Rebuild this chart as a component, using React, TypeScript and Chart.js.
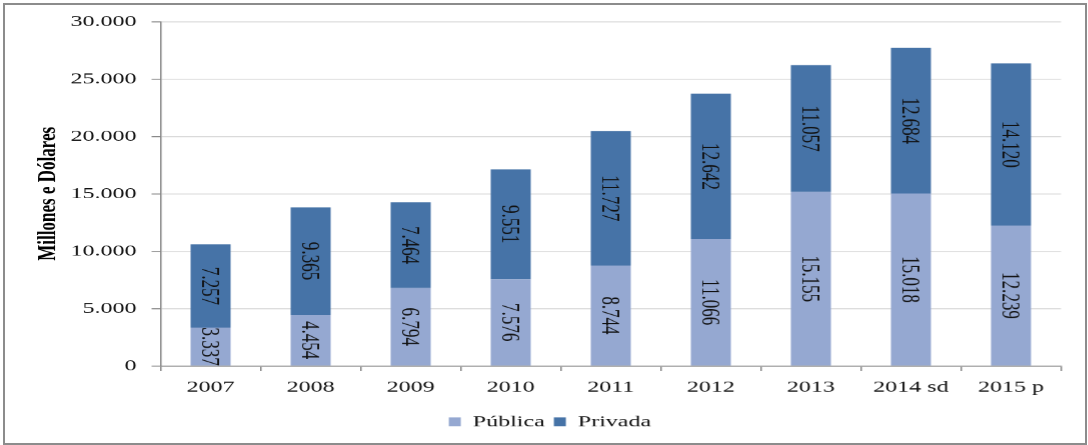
import React, { useEffect, useRef } from "react";
import { Chart, registerables } from "chart.js";

Chart.register(...registerables);

const categories = ["2007", "2008", "2009", "2010", "2011", "2012", "2013", "2014 sd", "2015 p"];
const publica = [3337, 4454, 6794, 7576, 8744, 11066, 15155, 15018, 12239];
const privada = [7257, 9365, 7464, 9551, 11727, 12642, 11057, 12684, 14120];
const yTicks = [0, 5000, 10000, 15000, 20000, 25000, 30000];
const seriesNames = ["Pública", "Privada"];
const yTitle = "Millones e Dólares";

const STRETCH = 1.5;
const LW = 725;
const LH = 445;
const FONT = "'Liberation Serif', 'Times New Roman', serif";

function fmt(n: number): string {
  const s = Math.round(n).toString();
  return s.replace(/\B(?=(\d{3})+(?!\d))/g, ".");
}

const dataLabelPlugin = {
  id: "vlabels",
  afterDatasetsDraw(chart: any) {
    const ctx = chart.ctx;
    ctx.save();
    ctx.font = `17px ${FONT}`;
    ctx.fillStyle = "#111";
    ctx.textAlign = "center";
    ctx.textBaseline = "middle";
    chart.data.datasets.forEach((ds: any, di: number) => {
      const meta = chart.getDatasetMeta(di);
      meta.data.forEach((bar: any, i: number) => {
        const v = ds.data[i];
        const cy = (bar.y + bar.base) / 2;
        ctx.save();
        ctx.translate(bar.x, cy);
        ctx.rotate(Math.PI / 2);
        ctx.fillText(fmt(v), 0, 1);
        ctx.restore();
      });
    });
    ctx.restore();
  },
};

export default function App() {
  const ref = useRef<HTMLCanvasElement | null>(null);
  useEffect(() => {
    if (!ref.current) return;
    const chart = new Chart(ref.current, {
      type: "bar",
      data: {
        labels: categories,
        datasets: [
          { label: seriesNames[0], data: publica, backgroundColor: "#95a8d1", barPercentage: 0.4, categoryPercentage: 1 },
          { label: seriesNames[1], data: privada, backgroundColor: "#4673a7", barPercentage: 0.4, categoryPercentage: 1 },
        ],
      },
      options: {
        responsive: false,
        animation: false,
        devicePixelRatio: STRETCH,
        layout: { padding: { left: 8, right: 0, top: 21.5, bottom: 5.5 } },
        plugins: {
          tooltip: { enabled: false },
          legend: {
            position: "bottom",
            labels: {
              font: { family: FONT, size: 16 },
              color: "#111",
              boxWidth: 8,
              boxHeight: 9,
              padding: 6,
            },
          },
        },
        scales: {
          x: {
            stacked: true,
            grid: { display: true, drawOnChartArea: false, drawTicks: true, tickLength: 5, color: "#868686", offset: true },
            border: { display: true, color: "#868686", width: 1 },
            ticks: { font: { family: FONT, size: 16 }, color: "#111", padding: 7, maxRotation: 0 },
            afterFit: (s: any) => { s.height = 41.8; },
          },
          y: {
            stacked: true,
            min: 0,
            max: 30000,
            afterBuildTicks: (s: any) => { s.ticks = yTicks.map((v) => ({ value: v })); },
            grid: {
              color: "#d9d9d9",
              borderDash: [4, 3],
              tickColor: "#868686",
              tickBorderDash: [],
              tickLength: 6,
            } as any,
            border: { display: true, color: "#868686", width: 1 },
            ticks: {
              font: { family: FONT, size: 16 },
              color: "#111",
              padding: 10,
              callback: (v: any) => fmt(Number(v)),
            },
            title: {
              display: true,
              text: yTitle,
              font: { family: FONT, size: 17, weight: "bold" },
              color: "#000",
              padding: { top: 14, bottom: 0 },
            },
            afterFit: (s: any) => { s.width = 99; },
          },
          y2: {
            position: "right",
            display: true,
            grid: { display: false },
            border: { display: false },
            ticks: { display: false },
            afterFit: (s: any) => { s.width = 18; },
          },
        },
      },
      plugins: [dataLabelPlugin],
    } as any);
    return () => chart.destroy();
  }, []);

  return (
    <div>
      <div
        style={{
          position: "absolute",
          left: 3,
          top: 3,
          width: 1084,
          height: 442,
          boxSizing: "border-box",
          border: "2px solid #8c8c8c",
        }}
      />
      <canvas
        ref={ref}
        width={LW}
        height={LH}
        style={{
          position: "absolute",
          left: 0,
          top: 0,
          width: LW,
          height: LH,
          display: "block",
          transformOrigin: "0 0",
          transform: `scaleX(${STRETCH})`,
        }}
      />
    </div>
  );
}
